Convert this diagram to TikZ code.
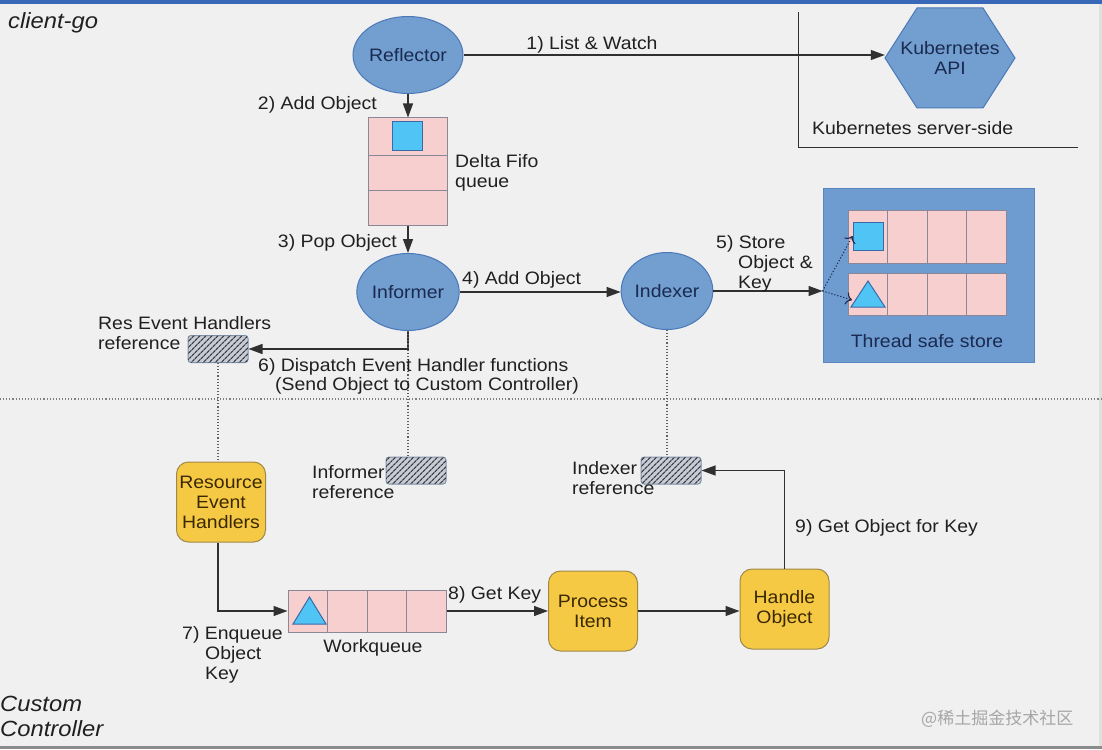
\documentclass[tikz,border=0pt]{standalone}
\usepackage{fontspec}
\setmainfont[FakeStretch=1.08]{Liberation Sans}
\newfontfamily\cjk{Noto Sans CJK SC}
\usetikzlibrary{arrows.meta,shapes.geometric,patterns.meta}
\definecolor{bgc}{HTML}{F0F0F0}
\definecolor{topbar}{HTML}{3A68B8}
\definecolor{circf}{HTML}{729FCF}
\definecolor{circb}{HTML}{4A78B8}
\definecolor{navy}{HTML}{1A2A50}
\definecolor{yf}{HTML}{F6C945}
\definecolor{yb}{HTML}{A08848}
\definecolor{brownt}{HTML}{3A2800}
\definecolor{pinkf}{HTML}{F7CFCF}
\definecolor{cellb}{HTML}{8A8898}
\definecolor{cyanf}{HTML}{50C4F4}
\definecolor{cyanb}{HTML}{3A6AA8}
\definecolor{hf}{HTML}{C8CCD4}
\definecolor{hb}{HTML}{8090A8}
\definecolor{hc}{HTML}{3A3E48}
\definecolor{lc}{HTML}{303030}
\definecolor{dc}{HTML}{606060}
\definecolor{txtc}{HTML}{202020}
\definecolor{storef}{HTML}{6E9BD0}
\definecolor{storeb}{HTML}{5A86C0}
\begin{document}
\begin{tikzpicture}[x=1pt,y=-1pt,
  txt/.style={font=\fontsize{18}{20}\selectfont, inner sep=0pt, text=txtc, align=left},
  itx/.style={font=\fontsize{22}{25}\selectfont\itshape, inner sep=0pt, text=txtc, align=left},
  circ/.style={ellipse, draw=circb, fill=circf, line width=1pt, minimum width=91pt, minimum height=77pt, inner sep=0pt, font=\fontsize{18}{20}\selectfont, text=navy},
  ybox/.style={rounded corners=12pt, draw=yb, fill=yf, line width=1pt, minimum width=89pt, minimum height=80pt, inner sep=0pt, align=center, font=\fontsize{18}{20}\selectfont, text=brownt},
  hatchbox/.style={rounded corners=3pt, draw=hb, fill=hf, line width=1pt, minimum width=60pt, minimum height=27pt, inner sep=0pt,
     postaction={pattern={Lines[angle=45,distance=4pt,line width=1.3pt]}, pattern color=hc}},
  conn/.style={line width=1.2pt, draw=lc, -{Triangle[length=14pt,width=10pt]}},
  dots/.style={dotted, line width=1.1pt, draw=dc},
  cell/.style={draw=cellb, fill=pinkf, line width=1pt},
  cyanshape/.style={draw=cyanb, fill=cyanf, line width=1pt},
]
% background and frame
\fill[bgc] (0,0) rectangle (1102,749);
\fill[topbar] (0,0) rectangle (1102,4);
\fill[black!45] (0,746) rectangle (1102,749);
\fill[black!12] (1099,4) rectangle (1102,746);
\useasboundingbox (0,0) rectangle (1102,749);

% separators
\draw[dots, draw=black!50] (0,399) -- (1102,399);
\draw[line width=1pt, draw=lc] (798,12) -- (798,147) -- (1078,147);

% section titles
\node[itx, anchor=base west] (tclient) at (8,29) {client-go};
\node[itx, anchor=north west] (tcustom) at (0,696) {Custom\\Controller};

% Kubernetes API hexagon
\node (api) at (950,58) [minimum width=130pt, minimum height=100pt, inner sep=0pt] {};
\fill[circf, draw=circb, line width=1pt] (885,58) -- (917,8) -- (983,8) -- (1015,58) -- (983,108) -- (917,108) -- cycle;
\node[font=\fontsize{18}{20}\selectfont, text=navy, align=center, inner sep=0pt] (apitxt) at (950,58) {Kubernetes\\API};
\node[txt, anchor=base west] (tserver) at (812,135) {Kubernetes server-side};

% circles
\node[circ] (refl) at (408,55) {Reflector};
\node[circ] (inf) at (408,292) {Informer};
\node[circ] (idx) at (667,291) {Indexer};

% Delta FIFO
\node[cell, minimum width=79pt, minimum height=107pt, inner sep=0pt] (fifo) at (408,171.5) {};
\draw[draw=cellb, line width=1pt] (fifo.west |- 0,155) -- (fifo.east |- 0,155);
\draw[draw=cellb, line width=1pt] (fifo.west |- 0,190) -- (fifo.east |- 0,190);
\node[cyanshape, minimum width=30pt, minimum height=28pt, inner sep=0pt] (fifosq) at (407,136) {};
\node[txt, anchor=north west] (tfifo) at (455,154) {Delta Fifo\\queue};

% thread safe store
\node[draw=storeb, fill=storef, line width=1pt, minimum width=211pt, minimum height=174pt, inner sep=0pt] (store) at (928.5,275) {};
\foreach \i in {0,1,2,3} {
  \draw[cell] (848+39.5*\i,210) rectangle (848+39.5*\i+39.5,263);
  \draw[cell] (848+39.5*\i,273) rectangle (848+39.5*\i+39.5,315);
}
\node[cyanshape, minimum width=30pt, minimum height=28pt, inner sep=0pt] (stsq) at (868,236) {};
\draw[cyanshape] (851,307) -- (868,281) -- (885,307) -- cycle;
\coordinate (sttri) at (852,300);
\node[font=\fontsize{18}{20}\selectfont, text=navy, inner sep=0pt, anchor=base] (tstore) at (927,347) {Thread safe store};

% hatched references
\node[hatchbox] (resref) at (218,349) {};
\node[hatchbox] (infref) at (416,470.5) {};
\node[hatchbox] (idxref) at (671,470.5) {};

% yellow boxes
\node[ybox] (reh) at (221,502) {Resource\\Event\\Handlers};
\node[ybox] (proc) at (593,611) {Process\\Item};
\node[ybox] (hand) at (784.5,609) {Handle\\Object};

% workqueue
\node[cell, minimum width=158pt, minimum height=42pt, inner sep=0pt] (wq) at (367,611) {};
\foreach \i in {1,2,3} { \draw[draw=cellb, line width=1pt] (288+39.5*\i,590) -- (288+39.5*\i,632); }
\draw[cyanshape] (293,624) -- (309.5,597) -- (326,624) -- cycle;
\node[txt, anchor=base] (twq) at (373,652) {Workqueue};

% connectors
\draw[conn] (refl.east) -- (refl.east -| api.west);
\draw[conn] (refl.south) -- (fifo.north);
\draw[conn] (fifo.south) -- (inf.north);
\draw[conn] (inf.east) -- (inf.east -| idx.west);
\draw[conn] (idx.east) -- (idx.east -| store.west);
\draw[conn] (inf.south) |- (resref.east);
\draw[dots, -{To[length=6pt]}, draw=navy] (idx.east -| store.west) -- (stsq.west);
\draw[dots, -{To[length=6pt]}, draw=navy] (idx.east -| store.west) -- (sttri);
\draw[dots] (inf.south) -- (inf.south |- infref.north);
\draw[dots] (idx.south) -- (idx.south |- idxref.north);
\draw[dots] (resref.south) -- (resref.south |- reh.north);
\draw[conn] (reh.south -| resref.south) |- (wq.west);
\draw[conn] (wq.east) -- (wq.east -| proc.west);
\draw[conn] (proc.east) -- (proc.east -| hand.west);
\draw[conn] (hand.north) |- (idxref.east);

% labels
\node[txt, anchor=base] (l1) at (592,50) {1) List \& Watch};
\node[txt, anchor=base east] (l2) at (377,110) {2) Add Object};
\node[txt, anchor=base east] (l3) at (397,247) {3) Pop Object};
\node[txt, anchor=base west] (l4) at (462,284) {4) Add Object};
\node[txt, anchor=base west] (l5a) at (716,248) {5) Store};
\node[txt, anchor=north west] (l5b) at (738,255) {Object \&\\Key};
\node[txt, anchor=north west] (lres) at (98,316) {Res Event Handlers\\reference};
\node[txt, anchor=base west] (l6a) at (258,371) {6) Dispatch Event Handler functions};
\node[txt, anchor=base west] (l6b) at (275,390) {(Send Object to Custom Controller)};
\node[txt, anchor=north west] (linf) at (312,465) {Informer\\reference};
\node[txt, anchor=north west] (lidx) at (572,461) {Indexer\\reference};
\node[txt, anchor=base west] (l7a) at (182,639) {7) Enqueue};
\node[txt, anchor=north west] (l7b) at (205,646) {Object\\Key};
\node[txt, anchor=base west] (l8) at (448,599) {8) Get Key};
\node[txt, anchor=base west] (l9) at (795,532) {9) Get Object for Key};

% watermark
\node[font=\cjk\fontsize{17}{20}\selectfont, text=black!35, inner sep=0pt, anchor=base west] (wm) at (921,724) {@稀土掘金技术社区};
\end{tikzpicture}
\end{document}
